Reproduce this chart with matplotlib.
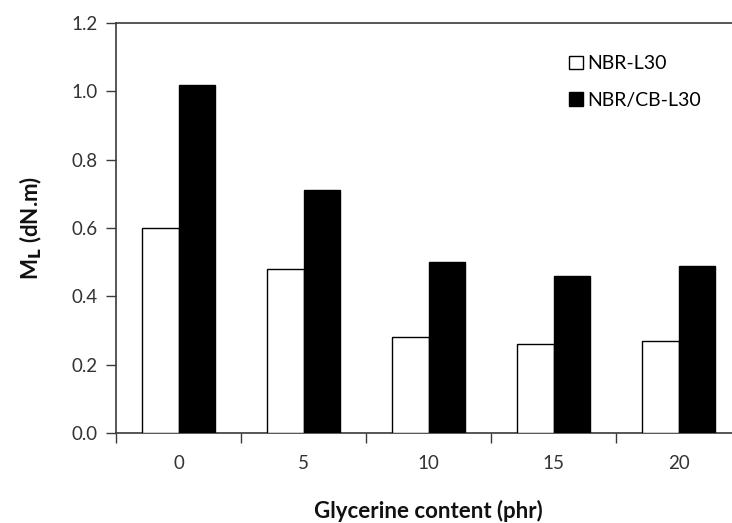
"""Minimum torque M_L vs glycerine content for NBR-L30 and NBR/CB-L30."""

import matplotlib
matplotlib.use("Agg")
import matplotlib.pyplot as plt
import numpy as np

plt.rcParams["font.family"] = ["Lato", "DejaVu Sans"]

glycerine = ["0", "5", "10", "15", "20"]
nbr_l30 = [0.60, 0.48, 0.28, 0.26, 0.27]
nbr_cb_l30 = [1.02, 0.71, 0.50, 0.46, 0.49]

AXIS_COLOR = "#3a3a3a"
TEXT_COLOR = "#333333"

fig = plt.figure(figsize=(7.32, 5.23), dpi=100)
ax = fig.add_axes([0.1585, 0.172, 0.854, 0.784])

x = np.arange(len(glycerine))
w = 0.29
ax.bar(x - w / 2, nbr_l30, w, facecolor="white", edgecolor="black", lw=1.0,
       label="NBR-L30", zorder=3)
ax.bar(x + w / 2, nbr_cb_l30, w, facecolor="black", edgecolor="black", lw=1.0,
       label="NBR/CB-L30", zorder=3)

ax.set_xlim(-0.5, len(glycerine) - 0.5)
ax.set_ylim(0, 1.2)
yt = np.arange(0, 1.21, 0.2)
ax.set_yticks(yt)
ax.set_yticklabels([f"{v:.1f}" for v in yt])

# category boundaries get the tick marks, labels sit at the centres
ax.set_xticks(np.arange(-0.5, len(glycerine), 1.0))
ax.set_xticklabels([])
ax.set_xticks(x, minor=True)
ax.set_xticklabels(glycerine, minor=True)
ax.tick_params(axis="x", which="major", direction="out", length=7, width=1.0,
               color=AXIS_COLOR)
ax.tick_params(axis="x", which="minor", length=0, pad=16, labelsize=13.5,
               labelcolor=TEXT_COLOR)
ax.tick_params(axis="y", direction="out", length=7, width=1.0, color=AXIS_COLOR,
               labelsize=13.5, labelcolor=TEXT_COLOR, pad=6)

for side in ("left", "bottom", "top"):
    ax.spines[side].set_color(AXIS_COLOR)
    ax.spines[side].set_linewidth(1.2)
ax.spines["right"].set_visible(False)

ax.set_xlabel("Glycerine content (phr)", fontsize=16, fontweight="bold",
              labelpad=20, color="#111111")
ax.set_ylabel(r"M$_\mathbf{L}$ (dN.m)", fontsize=16, fontweight="bold",
              labelpad=20, color="#111111")

ax.legend(loc="upper left", bbox_to_anchor=(0.712, 0.94), frameon=False,
          fontsize=14, handlelength=0.7, handleheight=0.7, handletextpad=0.25,
          labelspacing=1.0, borderaxespad=0)

fig.savefig("out.png", dpi=100, facecolor="white")
